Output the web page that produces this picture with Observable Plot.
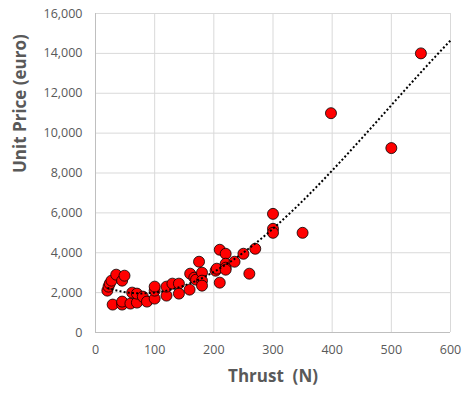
<!DOCTYPE html>
<html>
<head>
<meta charset="utf-8">
<script src="https://cdn.jsdelivr.net/npm/d3@7"></script>
<script src="https://cdn.jsdelivr.net/npm/@observablehq/plot@0.6"></script>
<style>
  html, body { margin: 0; padding: 0; background: #fff; }
  #chart svg { display: block; }
</style>
</head>
<body>
<div id="chart"></div>
<script>
// Data
const thrust = [20, 22, 24, 27, 35, 45, 49,
  29, 45, 45, 59, 62, 70, 70, 80, 87,
  100, 100, 100,
  120, 120, 130, 141, 141, 159, 160, 167, 170, 175, 180, 180, 180,
  203, 205, 210, 210, 220, 220, 220, 220, 235, 250, 260, 270,
  300, 300, 300, 350, 398, 500, 550];
const price = [2100, 2300, 2450, 2600, 2900, 2600, 2850,
  1400, 1400, 1550, 1450, 2000, 1500, 1950, 1800, 1550,
  1700, 2100, 2300,
  1850, 2300, 2450, 2450, 1950, 2150, 2950, 2750, 2650, 3550, 3000, 2600, 2350,
  3100, 3200, 4150, 2500, 3950, 3450, 3250, 3150, 3550, 3950, 2950, 4200,
  5950, 5200, 5000, 5000, 11000, 9250, 14000];
const xTicks = [0, 100, 200, 300, 400, 500, 600];
const yTicks = [0, 2000, 4000, 6000, 8000, 10000, 12000, 14000, 16000];
const xLabel = "Thrust  (N)";
const yLabel = "Unit Price (euro)";
const trendOrder = 3;

const points = thrust.map((t, i) => ({thrust: t, price: price[i]}));

// Polynomial trendline (least squares), like the spreadsheet's trendline
function polyFit(xs, ys, n) {
  const m = n + 1;
  const A = Array.from({length: m}, () => new Array(m + 1).fill(0));
  xs.forEach((x0, i) => {
    const x = x0 / 100; // scaled for numerical stability
    for (let r = 0; r < m; r++) {
      for (let c = 0; c < m; c++) A[r][c] += Math.pow(x, r + c);
      A[r][m] += Math.pow(x, r) * ys[i];
    }
  });
  for (let c = 0; c < m; c++) {
    for (let r = c + 1; r < m; r++) {
      const f = A[r][c] / A[c][c];
      for (let k = c; k <= m; k++) A[r][k] -= f * A[c][k];
    }
  }
  const co = new Array(m).fill(0);
  for (let r = m - 1; r >= 0; r--) {
    let s = A[r][m];
    for (let k = r + 1; k < m; k++) s -= A[r][k] * co[k];
    co[r] = s / A[r][r];
  }
  return x => co.reduce((acc, c, k) => acc + c * Math.pow(x / 100, k), 0);
}
const f = polyFit(thrust, price, trendOrder);
const trendStart = d3.min(thrust), trendEnd = 600;
const trend = d3.range(trendStart, trendEnd + 0.001, 2).map(x => ({thrust: x, price: f(x)}));

const font = "'Open Sans', 'Liberation Sans', sans-serif";
const grey = "#595959";

const chart = Plot.plot({
  width: 476,
  height: 393,
  marginLeft: 95,
  marginRight: 26,
  marginTop: 13,
  marginBottom: 61,
  style: {fontFamily: font, background: "#fff"},
  x: {domain: [0, 600]},
  y: {domain: [0, 16000]},
  marks: [
    Plot.gridX(xTicks, {stroke: "#d9d9d9", strokeOpacity: 1}),
    Plot.gridY(yTicks, {stroke: "#d9d9d9", strokeOpacity: 1}),
    Plot.ruleX([0], {stroke: "#bfbfbf"}),
    Plot.ruleY([0], {stroke: "#bfbfbf"}),
    Plot.axisX({ticks: xTicks, tickSize: 0, tickPadding: 13, tickFormat: d3.format(","), label: null, fontSize: 12.5, fill: grey}),
    Plot.axisY({ticks: yTicks, tickSize: 0, tickPadding: 13, tickFormat: d3.format(","), label: null, fontSize: 12.5, fill: grey}),
    Plot.dot(points, {x: "thrust", y: "price", r: 5.5, fill: "#ff0000", stroke: "#000", strokeWidth: 0.8}),
    Plot.line(trend, {x: "thrust", y: "price", stroke: "#000", strokeWidth: 2, strokeDasharray: "2,2.2", strokeLinecap: "butt", curve: "linear"}),
    Plot.text([xLabel], {frameAnchor: "bottom", dy: 49, fontSize: 17, fontWeight: "bold", fill: grey}),
    Plot.text([yLabel], {frameAnchor: "left", dx: -75, rotate: -90, fontSize: 17, fontWeight: "bold", fill: grey})
  ]
});
document.getElementById("chart").appendChild(chart);
</script>
</body>
</html>
